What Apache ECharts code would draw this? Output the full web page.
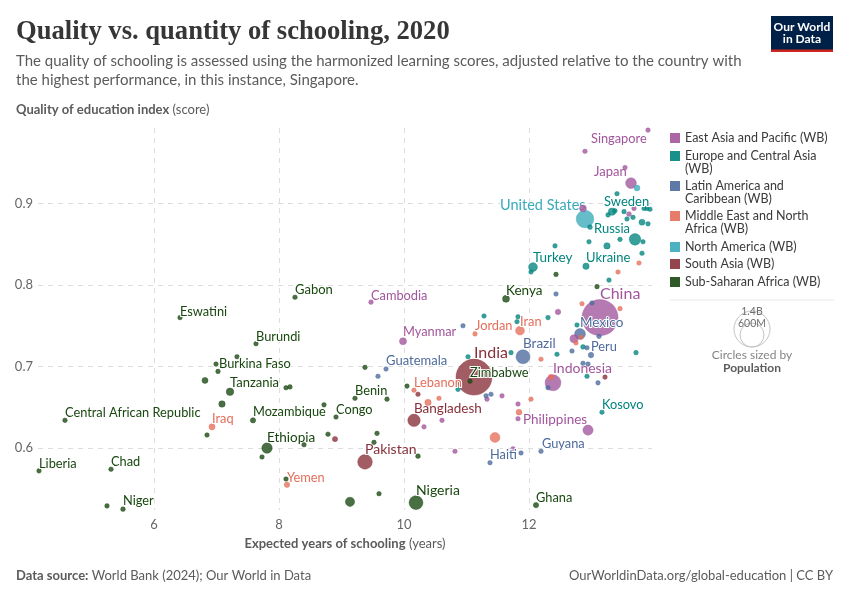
<!DOCTYPE html>
<html>
<head>
<meta charset="utf-8">
<style>html,body{margin:0;padding:0;background:#fff}#main{width:850px;height:600px}</style>
<script src="https://cdn.jsdelivr.net/npm/echarts@6/dist/echarts.min.js"></script>
</head>
<body>
<div id="main"></div>
<script>
// rows: expected years of schooling, quality index, population (millions), country
var eastAsiaPacific = [
    [13.904, 0.990, 6, 'Singapore'], [12.896, 0.964, 8, ''], [13.632, 0.925, 125, 'Japan'], [13.536, 0.944, 5, ''],
    [12.864, 0.894, 52, ''], [13.6, 0.887, 26, ''], [13.68, 0.894, 5, ''], [9.472, 0.779, 16, 'Cambodia'],
    [9.984, 0.731, 54, 'Myanmar'], [13.136, 0.760, 1410, 'China'], [12.384, 0.680, 274, 'Indonesia'],
    [12.944, 0.622, 113, 'Philippines'], [12.72, 0.734, 70, ''], [12.464, 0.767, 33, ''], [11.824, 0.654, 9, ''],
    [11.568, 0.664, 10, ''], [11.328, 0.660, 7, ''], [10.608, 0.634, 12, ''], [10.32, 0.626, 7, ''],
    [10.816, 0.596, 7, ''], [11.744, 0.599, 1, ''], [11.824, 0.636, 8, '']
];
var europeCentralAsia = [
    [13.408, 0.912, 10, ''], [13.328, 0.890, 60, 'Sweden'], [13.264, 0.886, 10, ''], [13.376, 0.891, 8, ''],
    [13.52, 0.890, 10, ''], [13.84, 0.894, 8, ''], [13.936, 0.893, 8, ''], [13.888, 0.894, 8, ''],
    [13.568, 0.881, 9, ''], [13.664, 0.883, 11, ''], [13.808, 0.877, 40, ''], [13.904, 0.875, 9, ''],
    [12.976, 0.871, 25, ''], [12.96, 0.853, 10, ''], [13.456, 0.856, 9, ''], [13.696, 0.856, 145, 'Russia'],
    [13.248, 0.848, 45, ''], [13.824, 0.853, 9, ''], [12.416, 0.848, 9, ''], [13.808, 0.839, 9, ''],
    [12.064, 0.822, 85, 'Turkey'], [12.032, 0.816, 18, ''], [12.912, 0.823, 44, 'Ukraine'], [13.28, 0.806, 10, ''],
    [11.28, 0.762, 9, ''], [11.824, 0.761, 10, ''], [11.808, 0.755, 10, ''], [12.304, 0.760, 9, ''],
    [12.768, 0.751, 9, ''], [12.864, 0.724, 25, ''], [11.024, 0.712, 9, ''], [11.712, 0.717, 7, ''],
    [12.448, 0.715, 9, ''], [13.712, 0.717, 9, ''], [12.928, 0.688, 6, ''], [13.168, 0.644, 2, 'Kosovo'],
    [10.864, 0.672, 7, '']
];
var latinAmericaCaribbean = [
    [12.816, 0.740, 127, 'Mexico'], [11.904, 0.712, 213, 'Brazil'], [12.992, 0.714, 33, 'Peru'], [12.928, 0.723, 17, ''],
    [12.688, 0.719, 12, ''], [12.864, 0.704, 17, ''], [12.944, 0.703, 17, ''], [13.104, 0.680, 12, ''],
    [12.432, 0.789, 7, ''], [13.008, 0.778, 12, ''], [13.12, 0.737, 10, ''], [10.944, 0.750, 9, ''],
    [9.712, 0.697, 17, 'Guatemala'], [9.584, 0.688, 8, ''], [11.312, 0.664, 12, ''], [11.392, 0.666, 10, ''],
    [12.304, 0.674, 11, ''], [12.192, 0.596, 1, 'Guyana'], [11.872, 0.594, 7, ''], [11.376, 0.582, 11, 'Haiti']
];
var middleEastNorthAfrica = [
    [11.856, 0.744, 85, 'Iran'], [11.136, 0.740, 11, 'Jordan'], [6.928, 0.626, 42, 'Iraq'], [8.128, 0.555, 33, 'Yemen'],
    [10.16, 0.671, 6, 'Lebanon'], [10.384, 0.656, 44, ''], [10.56, 0.661, 11, ''], [11.456, 0.613, 107, ''],
    [11.84, 0.644, 37, ''], [12.032, 0.660, 10, ''], [12.192, 0.709, 12, ''], [12.848, 0.777, 11, ''],
    [13.456, 0.771, 10, ''], [13.76, 0.827, 11, ''], [13.424, 0.816, 12, ''], [12.752, 0.729, 14, ''],
    [12.832, 0.736, 6, ''], [12.352, 0.687, 34, '']
];
var northAmerica = [
    [12.896, 0.881, 335, 'United States'], [13.728, 0.919, 38, '']
];
var southAsia = [
    [11.12, 0.687, 1400, 'India'], [10.16, 0.634, 167, 'Bangladesh'], [9.376, 0.583, 231, 'Pakistan'],
    [10.224, 0.666, 12, ''], [8.896, 0.611, 30, ''], [13.216, 0.687, 5, '']
];
var subSaharanAfrica = [
    [10.192, 0.533, 208, 'Nigeria'], [11.056, 0.682, 15, 'Zimbabwe'], [8.256, 0.785, 2, 'Gabon'], [6.416, 0.760, 1, 'Eswatini'],
    [7.632, 0.728, 12, 'Burundi'], [6.992, 0.703, 16, 'Burkina Faso'], [7.024, 0.694, 14, ''], [7.328, 0.712, 1, ''],
    [6.816, 0.683, 39, ''], [7.216, 0.669, 61, 'Tanzania'], [7.088, 0.654, 45, ''], [4.576, 0.634, 5, 'Central African Republic'],
    [4.16, 0.572, 5, 'Liberia'], [5.312, 0.574, 16, 'Chad'], [5.504, 0.525, 24, 'Niger'], [5.248, 0.529, 13, ''],
    [6.848, 0.616, 9, ''], [7.584, 0.634, 31, 'Mozambique'], [8.112, 0.674, 8, ''], [8.176, 0.675, 8, ''],
    [8.72, 0.653, 14, ''], [8.912, 0.638, 6, 'Congo'], [8.784, 0.617, 8, ''], [7.808, 0.600, 118, 'Ethiopia'],
    [7.728, 0.589, 8, ''], [8.4, 0.604, 13, ''], [8.112, 0.562, 18, ''], [12.112, 0.530, 31, 'Ghana'],
    [9.216, 0.661, 5, 'Benin'], [9.728, 0.660, 8, ''], [9.376, 0.699, 8, ''], [10.048, 0.676, 9, ''],
    [9.568, 0.618, 10, ''], [9.52, 0.607, 8, ''], [10.224, 0.590, 24, ''], [9.6, 0.544, 6, ''],
    [9.136, 0.534, 92, ''], [11.632, 0.783, 53, 'Kenya'], [12.432, 0.813, 12, ''], [13.088, 0.798, 9, '']
];

var regionNames = ['East Asia and Pacific (WB)', 'Europe and Central Asia (WB)', 'Latin America and Caribbean (WB)',
    'Middle East and North Africa (WB)', 'North America (WB)', 'South Asia (WB)', 'Sub-Saharan Africa (WB)'];
var regionData = [eastAsiaPacific, europeCentralAsia, latinAmericaCaribbean, middleEastNorthAfrica,
    northAmerica, southAsia, subSaharanAfrica];
var regionColors = ['#A2559C', '#00847E', '#4C6A9C', '#E56E5A', '#38AABA', '#883039', '#18470F'];
var yTicks = [0.6, 0.7, 0.8, 0.9];
var xTicks = [6, 8, 10, 12];

// where each country label sits relative to its circle, in pixels
var labelOffsets = {
    'Singapore': [-57, 9], 'Japan': [-37, -11], 'United States': [-85, -14], 'Sweden': [-8, -10], 'Russia': [-41, -11],
    'Turkey': [0, -9], 'Ukraine': [0, -8], 'Kenya': [0, -8], 'China': [0, -24], 'Gabon': [0, -7], 'Eswatini': [0, -6],
    'Burundi': [0, -7], 'Burkina Faso': [3, 0], 'Tanzania': [0, -9], 'Central African Republic': [0, -7], 'Iraq': [0, -8],
    'Mozambique': [0, -8], 'Ethiopia': [0, -10], 'Liberia': [0, -7], 'Chad': [0, -7], 'Niger': [0, -8], 'Yemen': [0, -7],
    'Congo': [0, -7], 'Benin': [0, -7], 'Cambodia': [0, -6], 'Myanmar': [0, -9], 'Guatemala': [0, -8], 'Lebanon': [0, -7],
    'Jordan': [0, -8], 'Iran': [0, -9], 'Mexico': [0, -11], 'Peru': [0, -8], 'Brazil': [0, -13], 'India': [0, -24],
    'Zimbabwe': [0, -8], 'Indonesia': [0, -14], 'Philippines': [-65, -10], 'Bangladesh': [0, -12], 'Pakistan': [0, -12],
    'Nigeria': [0, -12], 'Ghana': [0, -7], 'Guyana': [1, -7], 'Haiti': [0, -8], 'Kosovo': [0, -7]
};
var labelSizes = { 'China': 16, 'India': 16, 'United States': 14.5, 'Indonesia': 14, 'Nigeria': 14, 'Pakistan': 14,
    'Brazil': 13.5, 'Bangladesh': 13.5, 'Japan': 13, 'Russia': 13, 'Mexico': 13.5, 'Philippines': 13.5, 'Ethiopia': 13.5,
    'Sweden': 13, 'Turkey': 13.5, 'Ukraine': 13, 'Kenya': 13.5, 'Tanzania': 13, 'Gabon': 13, 'Guatemala': 13 };

function circleSize(row) {
    var r = 18 * Math.sqrt(row[2] / 1400);
    return 2 * Math.max(2.3, r);
}

function pointSeries(name, rows, color, z) {
    return {
        name: name,
        type: 'scatter',
        z: z,
        symbolSize: circleSize,
        itemStyle: { color: color, opacity: 0.78, borderColor: color, borderWidth: 0.5 },
        emphasis: { disabled: true },
        silent: true,
        data: rows.map(function (row) {
            var item = { value: row };
            if (row[3]) {
                item.label = {
                    show: true,
                    formatter: row[3],
                    position: 'inside',
                    align: 'left',
                    verticalAlign: 'middle',
                    offset: labelOffsets[row[3]],
                    color: color,
                    opacity: 1,
                    fontFamily: 'Lato',
                    fontSize: labelSizes[row[3]] || 12.8,
                    textBorderColor: '#fff',
                    textBorderWidth: 2
                };
            }
            return item;
        })
    };
}

// bigger circles go underneath the small ones, whatever the region
var series = [];
regionData.forEach(function (rows, i) {
    series.push(pointSeries(regionNames[i], rows.filter(function (r) { return r[2] >= 100; }), regionColors[i], 2));
    series.push(pointSeries(regionNames[i], rows.filter(function (r) { return r[2] < 100; }), regionColors[i], 3));
});

// legend on the right
var legendLines = [
    ['East Asia and Pacific (WB)'], ['Europe and Central Asia', '(WB)'], ['Latin America and', 'Caribbean (WB)'],
    ['Middle East and North', 'Africa (WB)'], ['North America (WB)'], ['South Asia (WB)'], ['Sub-Saharan Africa (WB)']
];
var legendTops = [138, 156, 186, 216, 247, 264, 282];
var graphics = [];
function addText(x, y, text, size, color, weight, align, family) {
    graphics.push({
        type: 'text', x: x, y: y, silent: true,
        style: {
            text: text, fontSize: size, fill: color, fontWeight: weight || 'normal',
            fontFamily: family || 'Lato', textAlign: align || 'left', textVerticalAlign: 'middle'
        }
    });
}
legendLines.forEach(function (lines, i) {
    graphics.push({ type: 'rect', shape: { x: 670, y: legendTops[i] - 5, width: 10, height: 10 },
        style: { fill: regionColors[i], opacity: 0.9 }, silent: true });
    lines.forEach(function (line, j) {
        addText(685, legendTops[i] + j * 13, line, 12.5, '#3a3a3a');
    });
});

// size key
graphics.push({ type: 'line', shape: { x1: 670, y1: 300, x2: 834, y2: 300 }, style: { stroke: '#e7e7e7', lineWidth: 1 }, silent: true });
graphics.push({ type: 'circle', shape: { cx: 752, cy: 329, r: 18 }, style: { fill: 'none', stroke: '#c4c4c4', lineWidth: 1 }, silent: true });
graphics.push({ type: 'circle', shape: { cx: 752, cy: 335, r: 12 }, style: { fill: 'none', stroke: '#c4c4c4', lineWidth: 1 }, silent: true });
addText(752, 312, '1.4B', 10.5, '#6e6e6e', 'normal', 'center');
addText(752, 324, '600M', 10.5, '#6e6e6e', 'normal', 'center');
addText(752, 355, 'Circles sized by', 12, '#858585', 'normal', 'center');
addText(752, 368, 'Population', 12, '#5b5b5b', 'bold', 'center');

// header and footer
addText(16, 32, 'Quality vs. quantity of schooling, 2020', 26.6, '#363636', '600', 'left', 'Liberation Serif');
addText(16, 61.5, 'The quality of schooling is assessed using the harmonized learning scores, adjusted relative to the country with', 15, '#5b5b5b');
addText(16, 80.5, 'the highest performance, in this instance, Singapore.', 15, '#5b5b5b');
graphics.push({
    type: 'text', x: 16, y: 110, silent: true,
    style: {
        text: '{b|Quality of education index} {r|(score)}', textVerticalAlign: 'middle',
        rich: {
            b: { fontFamily: 'Lato', fontSize: 13, fontWeight: 'bold', fill: '#5b5b5b' },
            r: { fontFamily: 'Lato', fontSize: 13, fill: '#5b5b5b' }
        }
    }
});
graphics.push({
    type: 'text', x: 345, y: 544, silent: true,
    style: {
        text: '{b|Expected years of schooling} {r|(years)}', textAlign: 'center', textVerticalAlign: 'middle',
        rich: {
            b: { fontFamily: 'Lato', fontSize: 13, fontWeight: 'bold', fill: '#5b5b5b' },
            r: { fontFamily: 'Lato', fontSize: 13, fill: '#5b5b5b' }
        }
    }
});
graphics.push({
    type: 'text', x: 16, y: 576, silent: true,
    style: {
        text: '{b|Data source:} {r|World Bank (2024); Our World in Data}', textVerticalAlign: 'middle',
        rich: {
            b: { fontFamily: 'Lato', fontSize: 13, fontWeight: 'bold', fill: '#5b5b5b' },
            r: { fontFamily: 'Lato', fontSize: 13, fill: '#5b5b5b' }
        }
    }
});
addText(833, 576, 'OurWorldinData.org/global-education | CC BY', 13, '#5b5b5b', 'normal', 'right');

// logo
graphics.push({ type: 'rect', shape: { x: 771, y: 16, width: 62, height: 36 }, style: { fill: '#002147' }, silent: true });
graphics.push({ type: 'rect', shape: { x: 771, y: 49.5, width: 62, height: 2.5 }, style: { fill: '#ce261e' }, silent: true });
addText(802, 27, 'Our World', 12, '#fff', 'bold', 'center');
addText(802, 39, 'in Data', 12, '#fff', 'bold', 'center');

var myChart = echarts.init(document.getElementById('main'), null, { renderer: 'canvas' });

var option = {
    animation: false,
    backgroundColor: '#fff',
    grid: { left: 38, right: 198, top: 128, bottom: 90 },
    xAxis: {
        type: 'value',
        min: 4.144,
        max: 13.968,
        axisLine: { show: false },
        axisTick: { show: false, customValues: xTicks },
        axisLabel: { customValues: xTicks, color: '#666', fontFamily: 'Lato', fontSize: 13, margin: 8 },
        splitLine: { show: true, lineStyle: { color: '#dddddd', type: [5, 5], width: 1 } }
    },
    yAxis: {
        type: 'value',
        min: 0.524,
        max: 0.9926,
        axisLine: { show: false },
        axisTick: { show: false, customValues: yTicks },
        axisLabel: {
            customValues: yTicks, color: '#666', fontFamily: 'Lato', fontSize: 13, margin: 5,
            formatter: function (v) { return v.toFixed(1); }
        },
        splitLine: { show: true, lineStyle: { color: '#dddddd', type: [5, 5], width: 1 } }
    },
    series: series,
    graphic: { elements: graphics }
};

myChart.setOption(option);
</script>
</body>
</html>
